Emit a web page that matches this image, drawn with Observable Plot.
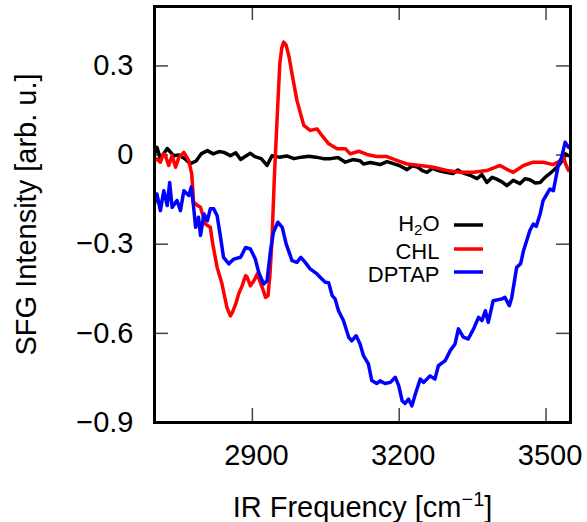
<!DOCTYPE html>
<html><head><meta charset="utf-8">
<script src="https://cdn.jsdelivr.net/npm/d3@7"></script>
<script src="https://cdn.jsdelivr.net/npm/@observablehq/plot@0.6"></script>
<style>body{margin:0;background:#fff} svg{font-family:"Liberation Sans",Arial,sans-serif}</style>
</head><body><div id="chart"></div>
<script>
// H2O
const h2oX = [2700,2705,2712,2726,2739,2750,2762,2773,2785,2796,2808,2820,2832,2842,2855,2866,2876,2886,2896,2905,2918,2930,2940,2955,2970,2985,3000,3015,3030,3045,3060,3075,3090,3105,3120,3127,3141,3161,3175,3188,3200,3216,3227,3237,3247,3257,3268,3280,3295,3310,3320,3330,3345,3359,3369,3379,3390,3398,3410,3420,3433,3447,3457,3467,3478,3488,3498,3508,3515,3522,3528,3535,3540,3545];
const h2oY = [0.004,0.026,-0.012,0.022,-0.002,0.000,-0.012,-0.029,-0.020,0.005,0.015,0.004,0.012,0.009,-0.002,0.008,-0.015,-0.004,0.006,-0.005,-0.012,-0.035,-0.002,-0.007,-0.003,-0.012,-0.007,-0.004,-0.007,-0.012,-0.012,-0.008,-0.024,-0.015,-0.019,-0.030,-0.025,-0.032,-0.022,-0.029,-0.035,-0.049,-0.036,-0.040,-0.052,-0.058,-0.045,-0.052,-0.058,-0.062,-0.050,-0.060,-0.068,-0.079,-0.066,-0.092,-0.075,-0.080,-0.090,-0.103,-0.085,-0.096,-0.080,-0.083,-0.094,-0.092,-0.075,-0.062,-0.052,-0.041,-0.030,-0.015,0.004,-0.002];
// CHL
const chlX = [2700,2705,2712,2718,2722,2729,2736,2743,2750,2760,2770,2776,2780,2784,2788,2794,2804,2814,2819,2828,2838,2848,2855,2859,2866,2872,2879,2886,2889,2896,2903,2910,2920,2927,2932,2936,2940,2945,2951,2956,2960,2964,2969,2975,2981,2991,3005,3018,3032,3042,3056,3073,3090,3100,3117,3134,3154,3175,3199,3216,3243,3270,3297,3324,3352,3379,3406,3420,3433,3454,3474,3494,3515,3529,3535,3540,3546];
const chlY = [-0.019,-0.013,-0.024,0.004,0.000,-0.035,-0.002,-0.041,-0.007,0.009,-0.019,-0.063,-0.159,-0.164,-0.170,-0.176,-0.232,-0.243,-0.299,-0.378,-0.434,-0.513,-0.541,-0.530,-0.501,-0.467,-0.440,-0.406,-0.410,-0.440,-0.423,-0.400,-0.445,-0.479,-0.473,-0.400,-0.288,-0.070,0.139,0.307,0.360,0.380,0.370,0.330,0.273,0.184,0.100,0.083,0.088,0.066,0.038,0.021,0.021,0.004,0.013,0.002,-0.005,-0.005,-0.020,-0.030,-0.035,-0.041,-0.052,-0.058,-0.058,-0.052,-0.035,-0.048,-0.058,-0.035,-0.024,-0.024,-0.032,-0.019,-0.002,-0.030,-0.052];
// DPTAP
const dptapX = [2700,2705,2712,2719,2726,2731,2736,2746,2753,2760,2770,2775,2780,2784,2790,2794,2801,2808,2814,2821,2828,2835,2841,2852,2862,2876,2886,2896,2906,2913,2923,2930,2937,2943,2952,2961,2969,2981,2991,2999,3008,3018,3032,3042,3049,3056,3063,3069,3076,3086,3097,3103,3112,3120,3127,3137,3144,3154,3161,3171,3182,3192,3199,3206,3212,3219,3226,3233,3243,3250,3263,3273,3280,3294,3304,3314,3321,3331,3341,3352,3362,3369,3376,3382,3392,3410,3416,3425,3430,3440,3448,3454,3467,3474,3480,3488,3494,3498,3508,3515,3525,3532,3539,3546];
const dptapY = [-0.164,-0.131,-0.187,-0.120,-0.170,-0.092,-0.176,-0.153,-0.187,-0.120,-0.136,-0.108,-0.176,-0.243,-0.209,-0.271,-0.198,-0.221,-0.181,-0.181,-0.204,-0.277,-0.344,-0.366,-0.350,-0.344,-0.311,-0.316,-0.350,-0.395,-0.434,-0.423,-0.322,-0.260,-0.226,-0.243,-0.299,-0.355,-0.361,-0.344,-0.361,-0.383,-0.400,-0.417,-0.428,-0.430,-0.473,-0.484,-0.524,-0.557,-0.614,-0.625,-0.608,-0.636,-0.675,-0.703,-0.759,-0.769,-0.760,-0.769,-0.765,-0.748,-0.776,-0.827,-0.836,-0.821,-0.844,-0.804,-0.754,-0.765,-0.743,-0.754,-0.709,-0.692,-0.659,-0.636,-0.585,-0.613,-0.619,-0.585,-0.546,-0.557,-0.524,-0.563,-0.490,-0.484,-0.479,-0.507,-0.479,-0.378,-0.366,-0.322,-0.254,-0.232,-0.240,-0.198,-0.153,-0.142,-0.114,-0.120,-0.035,-0.007,0.043,0.026];

const seriesNames = ["H2O", "CHL", "DPTAP"];
const seriesColors = ["#000000", "#ff0000", "#0000ff"];
const xTicks = [2900, 3200, 3500];
const yTicks = [0.3, 0, -0.3, -0.6, -0.9];
const xLabel = "IR Frequency [cm-1]";
const yLabel = "SFG Intensity [arb. u.]";

const rows = (xs, ys, s) => xs.map((x, i) => ({x, y: ys[i], series: s}));
const data = [
  ...rows(h2oX, h2oY, "H2O"),
  ...rows(chlX, chlY, "CHL"),
  ...rows(dptapX, dptapY, "DPTAP")
];

const W = 587, H = 522, mL = 154, mR = 17, mT = 6, mB = 100;
const pw = W - mL - mR, ph = H - mT - mB, tk = 14;
const fmtY = d => d === 0 ? "0" : d.toFixed(1).replace("-", "\u2212");
const fmtX = d => String(d);
const tickStyle = {stroke: "#444", strokeWidth: 1.5};
const legendDy = [217, 245, 268];

const legendMarks = seriesNames.map((n, i) =>
  Plot.text([n], {frameAnchor: "top-left", dx: 285, dy: legendDy[i], textAnchor: "end", lineAnchor: "middle", fontSize: 22, fill: "#000"}));

const chart = Plot.plot({
  width: W, height: H,
  marginLeft: mL, marginRight: mR, marginTop: mT, marginBottom: mB,
  x: {domain: [2700, 3550]},
  y: {domain: [-0.9, 0.5]},
  color: {domain: seriesNames, range: seriesColors},
  style: {fontFamily: "Liberation Sans, Arial, sans-serif", fontSize: "29px", color: "#000", background: "#fff"},
  marks: [
    Plot.axisX(xTicks, {tickSize: 0, tickPadding: 22, fontSize: 29, dx: 4, tickFormat: fmtX, label: null}),
    Plot.axisY(yTicks, {tickSize: 0, tickPadding: 21, fontSize: 29, tickFormat: fmtY, label: null}),
    Plot.tickX(xTicks, {x: d => d, insetTop: ph - tk, ...tickStyle}),
    Plot.tickX(xTicks, {x: d => d, insetBottom: ph - tk, ...tickStyle}),
    Plot.tickY(yTicks, {y: d => d, insetRight: pw - tk, ...tickStyle}),
    Plot.tickY(yTicks, {y: d => d, insetLeft: pw - tk, ...tickStyle}),
    Plot.line(data, {x: "x", y: "y", z: "series", stroke: "series", strokeWidth: 3.5, clip: true}),
    Plot.frame({stroke: "#000", strokeWidth: 3}),
    Plot.text([yLabel], {frameAnchor: "left", dx: -128, rotate: -90, textAnchor: "middle", lineAnchor: "middle", fontSize: 29, fill: "#000"}),
    Plot.text([xLabel], {frameAnchor: "bottom", dy: 85, textAnchor: "middle", lineAnchor: "middle", fontSize: 29, fill: "#000"}),
    ...legendMarks
  ]
});
document.getElementById("chart").append(chart);

// rich text: subscript / superscript
const svg = d3.select(chart);
svg.selectAll("text").each(function() {
  const t = d3.select(this);
  const s = t.text();
  if (s === "H2O") {
    t.text(null);
    t.append("tspan").text("H");
    t.append("tspan").attr("dy", 4).attr("font-size", 15).text("2");
    t.append("tspan").attr("dy", -4).text("O");
  } else if (s === "IR Frequency [cm-1]") {
    t.text(null);
    t.append("tspan").text("IR Frequency [cm");
    t.append("tspan").attr("dy", -11).attr("font-size", 20).text("\u22121");
    t.append("tspan").attr("dy", 11).text("]");
  }
});
// legend line samples
const legendY = [225, 249, 272];
seriesNames.forEach((n, i) => {
  svg.append("line").attr("x1", 454).attr("x2", 483).attr("y1", legendY[i]).attr("y2", legendY[i])
    .attr("stroke", seriesColors[i]).attr("stroke-width", 3.5);
});
</script></body></html>
